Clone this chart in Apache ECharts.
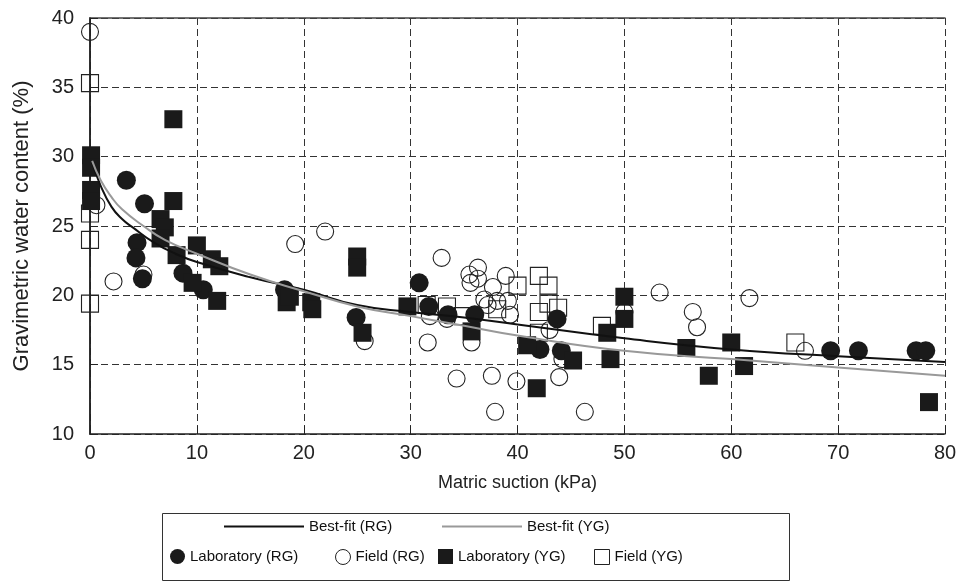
<!DOCTYPE html>
<html>
<head>
<meta charset="utf-8">
<script src="https://cdn.jsdelivr.net/npm/echarts@6/dist/echarts.min.js"></script>
<style>
html,body{margin:0;padding:0;background:#fff;}
#chart{width:963px;height:584px;}
</style>
</head>
<body>
<div id="chart"></div>
<script>
// ---- data ----
const labRG = [[3.4,28.3],[5.1,26.6],[4.4,23.8],[4.3,22.7],[4.9,21.2],[8.7,21.6],[10.6,20.4],[18.2,20.4],[24.9,18.4],[30.8,20.9],[31.7,19.2],[33.5,18.6],[36.0,18.6],[43.7,18.3],[42.1,16.1],[44.1,16.0],[69.3,16.0],[71.9,16.0],[77.3,16.0],[78.2,16.0]];
const fieldRG = [[0,39.0],[0.6,26.5],[2.2,21.0],[5.0,21.5],[19.2,23.7],[22.0,24.6],[25.7,16.7],[32.9,22.7],[35.5,21.5],[36.3,22.0],[35.6,20.9],[36.3,21.2],[38.9,21.4],[37.7,20.6],[36.9,19.7],[38.1,19.6],[39.1,19.6],[37.2,19.3],[39.3,18.6],[31.8,18.5],[33.4,18.3],[35.7,16.6],[31.6,16.6],[34.3,14.0],[37.6,14.2],[37.9,11.6],[39.9,13.8],[43.9,14.1],[46.3,11.6],[43.0,17.5],[44.2,15.4],[50.0,18.8],[53.3,20.2],[56.4,18.8],[56.8,17.7],[61.7,19.8],[66.9,16.0]];
const labYG = [[0.1,30.1],[0.1,29.2],[0.1,27.6],[0.1,26.8],[7.8,32.7],[7.8,26.8],[6.6,25.5],[7.0,24.9],[6.6,24.1],[8.1,22.9],[10.0,23.6],[11.4,22.6],[12.1,22.1],[9.6,20.9],[11.9,19.6],[18.4,19.5],[18.7,19.9],[20.7,19.5],[20.8,19.0],[25.0,22.8],[25.0,22.0],[25.5,17.3],[29.7,19.2],[35.7,17.4],[40.9,16.4],[41.8,13.3],[45.2,15.3],[48.4,17.3],[48.7,15.4],[50.0,19.9],[50.0,18.3],[55.8,16.2],[57.9,14.2],[60.0,16.6],[61.2,14.9],[78.5,12.3]];
const fieldYG = [[0,35.3],[0,25.9],[0,24.0],[0,19.4],[31.5,19.3],[33.4,19.2],[34.9,18.5],[38.1,19.0],[40.0,20.7],[42.0,21.4],[42.9,20.7],[42.9,19.4],[43.8,19.1],[42.0,18.8],[42.0,17.3],[47.9,17.8],[66.0,16.6]];
const fitRG = [[0.2,29.6],[1,27.9],[2,26.4],[3,25.5],[4,24.9],[6,23.8],[8,23.0],[10,22.4],[15,21.3],[20,20.4],[25,19.3],[30,18.8],[35,18.4],[40,17.9],[50,16.9],[60,16.1],[70,15.6],[80,15.2]];
const fitYG = [[0.2,29.7],[1,28.3],[2,27.1],[3,26.2],[5,25.0],[7,24.0],[10,23.0],[15,21.5],[20,20.3],[25,19.2],[30,18.5],[35,17.8],[40,17.1],[50,16.0],[60,15.4],[70,14.8],[80,14.2]];
const names = ['Best-fit (RG)','Best-fit (YG)','Laboratory (RG)','Field (RG)','Laboratory (YG)','Field (YG)'];

const FONT = 'Liberation Sans, Arial, sans-serif';
const chart = echarts.init(document.getElementById('chart'));
const dashed = {show:true, lineStyle:{color:'#333', width:1, type:[7,4]}};
const txt = {fontSize:15, color:'#111', fontFamily:FONT};
function lg(name, left, top, w, h, extra){
  return Object.assign({data:[name], left:left, top:top, itemWidth:w, itemHeight:h, padding:0, selectedMode:false, textStyle:txt}, extra||{});
}
chart.setOption({
  animation:false,
  backgroundColor:'#fff',
  grid:{left:90, right:18, top:18, bottom:150, containLabel:false},
  xAxis:[{
    type:'value', min:0, max:80, interval:10,
    name:'Matric suction (kPa)', nameLocation:'middle', nameGap:40,
    nameTextStyle:{fontSize:18, color:'#222', fontFamily:FONT},
    axisLine:{show:true, lineStyle:{color:'#222', width:1.5}},
    axisTick:{show:true, inside:true, length:8, lineStyle:{color:'#222'}},
    axisLabel:{fontSize:20, color:'#222', margin:9, fontFamily:FONT},
    splitLine:dashed
  },{
    type:'value', min:0, max:80, position:'top',
    axisLine:{show:true, lineStyle:{color:'#444', width:1.5}},
    axisTick:{show:false}, axisLabel:{show:false}, splitLine:{show:false}
  }],
  yAxis:[{
    type:'value', min:10, max:40, interval:5,
    name:'Gravimetric water content (%)', nameLocation:'middle', nameGap:57,
    nameTextStyle:{fontSize:22, color:'#222', fontFamily:FONT},
    axisLine:{show:true, lineStyle:{color:'#222', width:1.5}},
    axisTick:{show:true, inside:true, length:8, lineStyle:{color:'#222'}},
    axisLabel:{fontSize:20, color:'#222', margin:16, fontFamily:FONT},
    splitLine:dashed
  },{
    type:'value', min:10, max:40, position:'right',
    axisLine:{show:true, lineStyle:{color:'#222', width:1.5}},
    axisTick:{show:false}, axisLabel:{show:false}, splitLine:{show:false}
  }],
  legend:[
    lg(names[0], 224, 519, 80, 2, {icon:'rect'}),
    lg(names[1], 442, 519, 80, 2, {icon:'rect'}),
    lg(names[2], 170, 549, 15, 15),
    lg(names[3], 335, 549, 15, 15, {itemStyle:{borderWidth:1}}),
    lg(names[4], 438, 549, 15, 15),
    lg(names[5], 594, 549, 15, 15, {itemStyle:{borderWidth:1}})
  ],
  graphic:[{type:'rect', left:160, top:511, shape:{width:627, height:67}, style:{fill:'none', stroke:'#333', lineWidth:1}, silent:true}],
  series:[
    {name:names[3], type:'scatter', data:fieldRG, symbol:'circle', symbolSize:17,
      itemStyle:{color:'rgba(0,0,0,0)', borderColor:'#222', borderWidth:1.1, opacity:1}},
    {name:names[5], type:'scatter', data:fieldYG, symbol:'rect', symbolSize:17,
      itemStyle:{color:'rgba(0,0,0,0)', borderColor:'#222', borderWidth:1.1, opacity:1}},
    {name:names[2], type:'scatter', data:labRG, symbol:'circle', symbolSize:19,
      itemStyle:{color:'#1a1a1a', opacity:1}},
    {name:names[4], type:'scatter', data:labYG, symbol:'rect', symbolSize:18,
      itemStyle:{color:'#1a1a1a', opacity:1}},
    {name:names[0], type:'line', data:fitRG, smooth:true, symbol:'none', color:'#111',
      lineStyle:{color:'#111', width:2}},
    {name:names[1], type:'line', data:fitYG, smooth:true, symbol:'none', color:'#999',
      lineStyle:{color:'#999', width:2}}
  ]
});
</script>
</body>
</html>
